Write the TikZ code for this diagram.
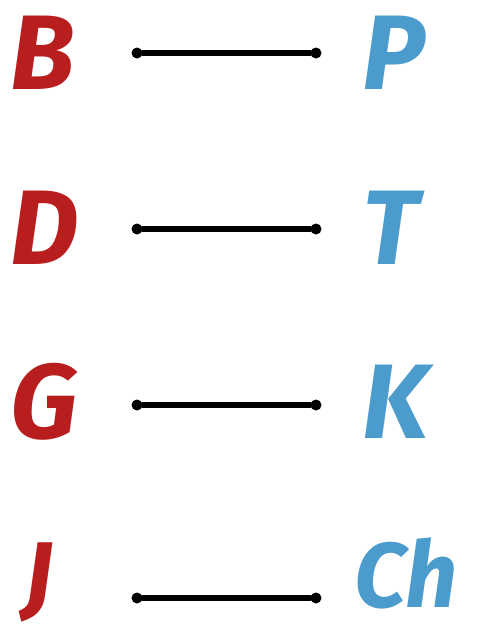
\documentclass[tikz,border=0pt]{standalone}
\usepackage{fontspec}
\setmainfont{Fira Sans}
\definecolor{lred}{HTML}{B91E1E}
\definecolor{lblue}{HTML}{4B9BCD}
\begin{document}
\begin{tikzpicture}[x=1pt,y=-1pt,
  leftl/.style={text=lred,font=\fontsize{106}{106}\selectfont\bfseries\itshape,anchor=base west,inner sep=0pt},
  rightl/.style={text=lblue,font=\fontsize{106}{106}\selectfont\bfseries\itshape,anchor=base west,inner sep=0pt},
  dot/.style={circle,fill=black,inner sep=0pt,minimum size=11pt},
  link/.style={line width=5.5pt,black,line cap=round}]
\useasboundingbox (0,0) rectangle (486,630);
\foreach \n/\L/\R/\y/\b in {1/B/P/53/89, 2/D/T/229/264, 3/G/K/405/438}{
  \node[leftl] (l\n) at (10,\b) {\L};
  \node[rightl] (r\n) at (362,\b) {\R};
  \node[dot] (a\n) at (137,\y) {};
  \node[dot] (b\n) at (316,\y) {};
  \draw[link] (a\n) -- (b\n);
}
\node[leftl,font=\fontsize{92}{92}\selectfont\bfseries\itshape] (l4) at (24,606) {J};
\node[rightl,font=\fontsize{92}{92}\selectfont\bfseries\itshape] (r4) at (354,607) {Ch};
\node[dot] (a4) at (137,598) {};
\node[dot] (b4) at (316,598) {};
\draw[link] (a4) -- (b4);
\end{tikzpicture}
\end{document}
